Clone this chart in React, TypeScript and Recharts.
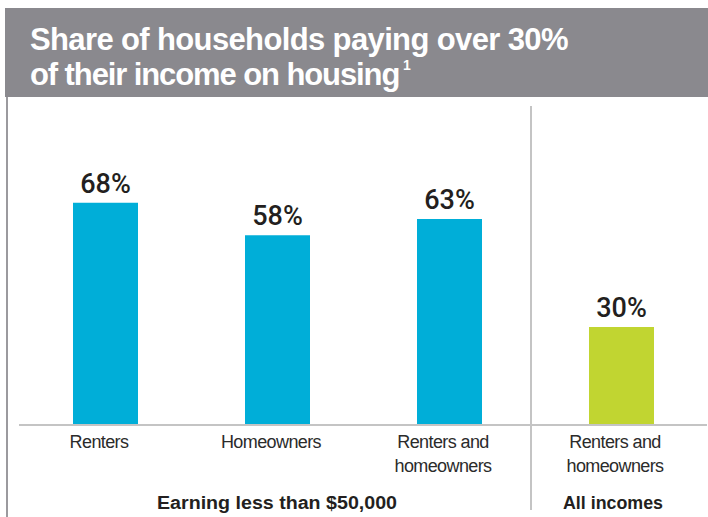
import React from "react";
import { Bar, BarChart, Cell, LabelList, XAxis, YAxis } from "recharts";

const categoryIds = ["renters", "homeowners", "both-low", "both-all"];
const categoryLabels = [["Renters"], ["Homeowners"], ["Renters and", "homeowners"], ["Renters and", "homeowners"]];
const shares = [68, 58, 63, 30];
const incomeGroup = ["low", "low", "low", "all"];
const groupLabels = ["Earning less than $50,000", "All incomes"];
const titleLines = ["Share of households paying over 30%", "of their income on housing"];
const footnoteMark = "1";

const data = categoryIds.map((id, i) => ({ id, share: shares[i], group: incomeGroup[i] }));

const BLUE = "#00aed8";
const GREEN = "#c1d531";
const W = 708;
const H = 517;

function CategoryTick(props: any) {
  const { x, y, payload } = props;
  const lines = categoryLabels[payload.index] || [];
  return (
    <text
      x={x - 6}
      y={y}
      textAnchor="middle"
      fill="#2b2b2b"
      fontSize={18}
      fontFamily="'Liberation Sans', Arial, sans-serif"
      letterSpacing={-0.6}
    >
      {lines.map((l, i) => (
        <tspan key={i} x={x - 6} dy={i === 0 ? 15 : 24}>
          {l}
        </tspan>
      ))}
    </text>
  );
}

export default function App() {
  return (
    <div style={{ position: "absolute", left: 0, top: 0, width: W, height: H, background: "#fff", overflow: "hidden" }}>
      <svg width={W} height={H} style={{ position: "absolute", left: 0, top: 0 }}>
        <rect x={5} y={8} width={W - 5} height={89} fill="#8a898e" />
        <g fill="#fff" fontFamily="'Liberation Sans', Arial, sans-serif" fontWeight={700} fontSize={31}>
          <text x={30} y={50} letterSpacing={-0.63}>
            {titleLines[0]}
          </text>
          <text x={30} y={85} letterSpacing={-1.1}>
            {titleLines[1]}
          </text>
          <text x={403} y={70} fontSize={14}>
            {footnoteMark}
          </text>
        </g>
        <rect x={6} y={97} width={2} height={H - 97} fill="#9b9a9e" />
        <rect x={530} y={106} width={2} height={404} fill="#c4c4c4" />
        <g fill="#231f20" fontFamily="'Liberation Sans', Arial, sans-serif" fontWeight={700} fontSize={18}>
          <text x={277} y={509} textAnchor="middle" textLength={240} lengthAdjust="spacingAndGlyphs">
            {groupLabels[0]}
          </text>
          <text x={613} y={509} textAnchor="middle" textLength={100} lengthAdjust="spacingAndGlyphs">
            {groupLabels[1]}
          </text>
        </g>
      </svg>
      <div style={{ position: "absolute", left: 0, top: 0 }}>
        <BarChart width={W} height={H} data={data} margin={{ top: 98, right: 1, bottom: 0, left: 19 }}>
          <XAxis
            dataKey="id"
            tick={<CategoryTick />}
            tickLine={false}
            axisLine={{ stroke: "#c4c4c4", strokeWidth: 2 }}
            interval={0}
            height={92}
          />
          <YAxis hide domain={[0, 100]} />
          <Bar dataKey="share" barSize={65} isAnimationActive={false}>
            {data.map((d) => (
              <Cell key={d.id} fill={d.group === "all" ? GREEN : BLUE} />
            ))}
            <LabelList
              dataKey="share"
              position="top"
              offset={10}
              formatter={(v: any) => `${v}%`}
              fill="#231f20"
              fontSize={27}
              fontWeight={500}
              fontFamily="Roboto, 'Liberation Sans', sans-serif"
            />
          </Bar>
        </BarChart>
      </div>
    </div>
  );
}
